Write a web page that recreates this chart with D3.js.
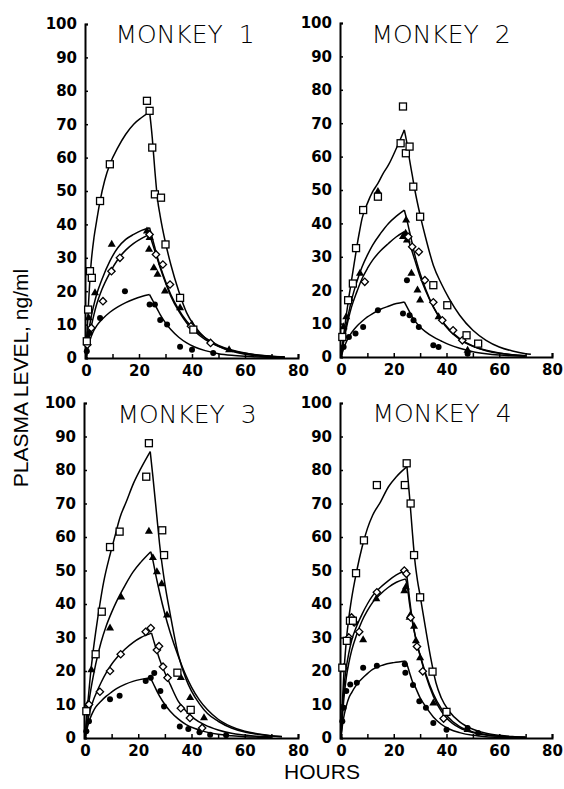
<!DOCTYPE html>
<html>
<head>
<meta charset="utf-8">
<script src="https://cdn.jsdelivr.net/npm/d3@7"></script>
<style>
  body { margin: 0; background: #fff; }
  .tick text { font-family: 'DejaVu Sans', sans-serif; font-weight: bold; font-size: 15px; }
</style>
</head>
<body>
<script>
// ---- data: [hours, ng/ml] ----
const titles = ['MONKEY  1', 'MONKEY  2', 'MONKEY  3', 'MONKEY  4']
const xTicks = [0, 20, 40, 60, 80]
const yTicks = [0, 10, 20, 30, 40, 50, 60, 70, 80, 90, 100]

// Monkey 1
const m1Sq = [[0.3,5],[0.8,14.5],[1.5,26],[2.2,24],[5.3,47],[9,58],[23,77],[24,74],[25,63],[26,49],[28.3,48],[30,34],[35.5,18],[40.5,8.5]]
const m1Tri = [[0.4,6],[1,12],[3.4,19.5],[9.7,34],[23,38],[24,36],[23.8,32.5],[25.6,27],[27,25],[29.8,20],[35.5,15],[40,10],[54,2.4]]
const m1Dia = [[0.5,4],[2,9],[6.4,17],[9.6,26],[12.8,30],[24,37],[26.4,31],[29,28],[31.7,22],[39.6,9.5],[47,4.5]]
const m1Dot = [[0.3,2],[1.3,7.5],[5.3,12],[14.7,20],[24,16],[26,16],[28,11.4],[30.6,10],[35.5,3.4],[40,2.5],[48,1.5]]
const m1SqFit = [[0,0],[0.5,9],[1,17],[1.5,24],[2,29],[3,36],[4,41],[5.3,47],[7,53],[9,58],[12,63],[15,67],[18,70],[21,72],[24,73.7],[25,66],[26,56],[27,47.5],[28,42.5],[30,34.5],[32,28],[35,20],[38,13.5],[41,9.5],[45,6],[50,3.5],[55,2],[60,1.1],[65,0.6],[70,0.35],[75,0.2]]
const m1TriFit = [[0,0],[0.5,4],[1,7.5],[2,12.5],[3,16],[4,19],[6,23.5],[9,29],[12,33],[15,35.5],[18,37],[21,38.2],[24,39],[25,36],[26,33],[27,30],[28,27.5],[30,23],[32,19],[35,14.5],[38,11],[41,8.5],[45,6],[50,3.8],[55,2.4],[60,1.5],[65,0.9],[70,0.55],[75,0.3]]
const m1DiaFit = [[0,0],[0.5,3],[1,5.5],[2,9.5],[3,13],[4,16],[6,20.5],[9,25.5],[12,29.5],[15,32.3],[18,34.3],[21,35.8],[24,37],[25,34.5],[26,32],[27,29.5],[28,27],[30,22.5],[32,18.5],[35,14],[38,10.5],[41,8],[45,5.5],[50,3.5],[55,2.2],[60,1.4],[65,0.85],[70,0.5],[75,0.3]]
const m1DotFit = [[0,0],[0.5,2],[1,4],[2,6.5],[3,8.3],[4,9.6],[6,11.5],[9,13.7],[12,15.3],[15,16.6],[18,17.6],[21,18.4],[24,19],[25,17.5],[26,16],[27,14.5],[28,13],[30,10.5],[32,8.5],[35,6.2],[38,4.5],[41,3.3],[45,2.2],[50,1.3],[55,0.8],[60,0.5],[65,0.3],[70,0.2],[75,0.1]]

// Monkey 2
const m2Sq = [[0.5,6],[2.7,17],[4.5,22],[5.7,32.6],[8.4,44],[14,48],[22.6,64],[23.5,75],[24.6,61],[26,63],[27.4,51],[30,42],[35,21.5],[40.3,15.5],[47.6,6.5],[52,4]]
const m2Tri = [[1,9],[2,12],[7.2,25],[14,49.5],[23.5,36],[24.5,37],[24.7,41],[25,35],[26.7,25],[29,20],[30,17],[37,12],[48,2]]
const m2Dia = [[3,17],[9,22.5],[25.5,36],[27,33],[29.5,31.5],[31.8,23],[35,16.4],[38.4,11],[42.5,8],[46,5]]
const m2Dot = [[1,3],[3,6],[5.5,7],[8.4,9],[14,14],[23.5,13],[25,23],[26,12.5],[27.5,11],[29.5,9],[35,3.5],[37,3],[48,1]]
const m2SqFit = [[0,0],[1,6.5],[2,12.5],[3,18],[4,23],[5,28],[6,33],[7,37.5],[8,41.5],[10,46],[12,49.5],[14,52],[16,55],[18,57.5],[21,62.5],[24,68],[25,64],[26,59],[27,54.5],[28,50],[30,42.5],[32,36],[35,27.5],[38,22],[41,17.5],[45,12.5],[50,8],[55,5],[60,3],[65,1.8],[70,1],[72,0.8]]
const m2TriFit = [[0,0],[1,5],[2,9.5],[3,13.5],[4,17],[6,22.5],[8,27],[10,30.5],[12,33.5],[15,37],[18,40],[21,42.2],[24,44],[25,41],[26,37.5],[27,34],[28,30.5],[30,25],[32,20.5],[35,15],[38,11],[41,8],[45,5.3],[50,3.2],[55,1.9],[60,1.1],[65,0.7],[70,0.4]]
const m2DiaFit = [[0,0],[1,4.5],[2,8.5],[3,12],[4,15],[6,19.5],[8,23.5],[10,26.5],[12,29],[15,31.8],[18,34],[21,36],[24,37.5],[25,36],[26,34],[27,31.5],[28,29],[30,24],[32,20],[35,15],[38,11.2],[41,8.3],[45,5.5],[50,3.3],[55,2],[60,1.2],[65,0.7],[70,0.4]]
const m2DotFit = [[0,0],[1,2.5],[2,4.5],[3,6],[4,7.3],[6,9.2],[8,10.7],[10,12],[12,13],[15,14.3],[18,15.2],[21,16],[24,16.5],[25,15],[26,13.5],[27,12],[28,10.8],[30,9],[32,7.6],[35,6],[38,4.8],[41,3.7],[45,2.6],[50,1.6],[55,1],[60,0.6],[65,0.35],[70,0.2]]

// Monkey 3
const m3Sq = [[0.5,8],[4,25],[6.3,37.7],[9.4,57],[13,61.6],[24,88],[23,78],[29,62],[29.7,54.6],[34.7,19.5],[39.7,8.4]]
const m3Tri = [[1,10],[2.4,20.3],[9.4,32.8],[13.6,42],[24,61.7],[25.5,53.8],[27,49.6],[28.8,46],[30.8,36.7],[36,18],[39.5,12],[44.7,6]]
const m3Dia = [[1.5,10],[5.6,13.8],[9.4,20],[13.4,25],[22.8,31.7],[24.7,32.8],[27,26.3],[27.8,27.4],[29.3,21.3],[31,18],[36,8.9],[39.4,6],[44,3]]
const m3Dot = [[0.5,2],[1.5,5],[9.4,11.6],[13,12.6],[22.8,17],[24.7,18],[26,19.4],[28.3,14],[29.7,9.4],[35.6,3.4],[38.8,2.7],[43,1.7],[47,1],[53,0.8]]
const m3SqFit = [[0,0],[1,10],[2,18.5],[3,25.5],[4,31.5],[5.6,40],[7,46.5],[9.4,54.7],[11,59.5],[13.2,66],[15.5,70.5],[18.2,76],[21,80.5],[24.5,85.5],[25.5,78],[27,66],[28,58],[30,46],[32,37],[35,25],[38,17.5],[40,14],[43,10.2],[46,7.3],[50,5],[55,3],[60,1.8],[65,1.1],[70,0.6],[74,0.4]]
const m3TriFit = [[0,0],[1,8],[2,13.5],[3,18],[4,22],[6,28.5],[8,33.5],[10,37.5],[12,41],[15,45.5],[18,49.5],[21,52.5],[24.7,55.6],[25.5,53],[26.5,49],[28,43.5],[30,37],[32,31.5],[35,24.5],[38,18.5],[40,15.2],[43,11.3],[46,8.4],[50,5.6],[55,3.4],[60,2],[65,1.2],[70,0.7],[74,0.45]]
const m3DiaFit = [[0,0],[1,5],[2,8.5],[3,11],[4,13],[6,16.5],[8,19.5],[10,22],[12,24],[15,26.5],[18,28.5],[21,30],[25,31.3],[26,28.5],[27,26],[28,23.5],[30,19.5],[32,16],[35,11],[38,8],[41,5.8],[45,3.9],[50,2.4],[55,1.4],[60,0.9],[65,0.5],[70,0.3]]
const m3DotFit = [[0,0],[1,3.5],[2,6],[3,7.8],[4,9.2],[6,11],[8,12.5],[10,13.7],[12,14.8],[15,16],[18,16.9],[21,17.5],[24.5,18],[25.5,16.5],[27,14],[28,12.5],[30,10],[32,8],[35,5.7],[38,4],[41,2.9],[45,1.9],[50,1.1],[55,0.7],[60,0.4],[65,0.25],[70,0.15]]

// Monkey 4
const m4Sq = [[0.5,21],[2.2,29],[3.4,35],[4.5,35],[5.7,49.2],[8.7,59],[13.6,75.5],[24.2,75.5],[24.9,82],[26.4,70],[27.7,54.6],[30,42],[34.7,19.8],[40,7.8]]
const m4Tri = [[2.8,30],[8.4,29.3],[13.4,41.5],[24,43.9],[24.6,45],[26,36],[26.3,36.7],[27.7,33.3],[28.4,29],[30,23.9],[35,10.4],[48,2.5]]
const m4Dia = [[1,21],[3,30],[4,36],[5,34.5],[6.9,31.7],[13.6,43.5],[24,50],[24.8,49],[26.4,36],[28.8,27.3],[31,19.9],[38.9,5.8]]
const m4Dot = [[0.5,5],[1,9],[2,14],[3.5,16],[6,16.5],[8.4,21],[13.6,21.6],[24.2,22],[24.4,19.5],[27.3,15.8],[29.7,11],[32.2,9],[35,4.5],[40,2.5],[48,3],[52,1.5]]
const m4SqFit = [[0,0],[0.5,10],[1,18],[2,29],[3,36],[4,41.5],[6,50],[8,57],[10,62.5],[12,66.5],[15,70.5],[18,75],[21,78],[25,81],[26,72],[27,62],[28,53],[29,47],[30,42.5],[32,33],[34,24],[36,16.5],[38,12],[41,8],[45,4.8],[50,2.6],[55,1.4],[60,0.8],[65,0.45],[70,0.25]]
const m4TriFit = [[0,0],[0.5,6],[1,11],[2,18],[3,22.5],[4,26],[6,31],[8,35],[10,38],[12,40.5],[15,43],[18,45],[21,46.5],[24.5,47.5],[25,46],[26,40],[27,35],[28,31],[29,27.5],[30,24.8],[32,19.5],[35,13.2],[38,8.8],[40,6.7],[45,3.4],[50,1.8],[55,1],[60,0.55],[65,0.3],[70,0.2]]
const m4DiaFit = [[0,0],[0.5,8],[1,14],[2,21],[3,25.5],[4,29],[6,33.5],[8,37],[10,40],[12,42.5],[15,45],[18,47],[21,48.7],[24.5,50],[25,48],[26,41.5],[27,35.5],[28,31],[29,27.5],[30,24.5],[32,19],[35,12.5],[38,8],[40,6],[45,3],[50,1.6],[55,0.9],[60,0.5],[65,0.3],[70,0.2]]
const m4DotFit = [[0,0],[0.5,3.5],[1,6],[2,9.5],[3,12],[4,13.5],[6,16],[9,18.5],[12,20.5],[16,21.8],[20,22.5],[24.5,23],[25,22],[26,19.5],[27,17],[28,15.5],[30,12],[32,9.5],[35,6.3],[38,4.1],[41,2.7],[45,1.6],[50,0.8],[55,0.4],[60,0.2],[65,0.1]]

const squares = [m1Sq, m2Sq, m3Sq, m4Sq]
const triangles = [m1Tri, m2Tri, m3Tri, m4Tri]
const diamonds = [m1Dia, m2Dia, m3Dia, m4Dia]
const dots = [m1Dot, m2Dot, m3Dot, m4Dot]
const fits = [
  [m1SqFit, m1TriFit, m1DiaFit, m1DotFit],
  [m2SqFit, m2TriFit, m2DiaFit, m2DotFit],
  [m3SqFit, m3TriFit, m3DiaFit, m3DotFit],
  [m4SqFit, m4TriFit, m4DiaFit, m4DotFit]
]

// ---- layout ----
const width = 564
const height = 789
const frames = [
  { left: 86, right: 298, top: 24, bottom: 358, titleX: 185, titleY: 43 },
  { left: 341, right: 552, top: 23, bottom: 357, titleX: 441, titleY: 43 },
  { left: 85, right: 298, top: 403, bottom: 738, titleX: 187, titleY: 423 },
  { left: 341, right: 552, top: 403, bottom: 738, titleX: 442, titleY: 422 }
]

const svg = d3.select('body').append('svg')
  .attr('width', width)
  .attr('height', height)

const line = (x, y) => d3.line()
  .x(d => x(d[0]))
  .y(d => y(d[1]))
  .curve(d3.curveMonotoneX)

frames.forEach((f, i) => {
  const x = d3.scaleLinear().domain([0, 80]).range([f.left, f.right])
  const y = d3.scaleLinear().domain([0, 100]).range([f.bottom, f.top])
  const g = svg.append('g')

  g.append('g')
    .attr('transform', `translate(0, ${f.bottom})`)
    .call(d3.axisBottom(x).tickValues(d3.range(0, 81, 10)).tickSize(-4).tickPadding(7)
      .tickFormat(d => xTicks.includes(d) ? d : ''))
    .call(a => a.select('.domain').attr('stroke-width', 2))
    .call(a => a.selectAll('.tick line').attr('stroke-width', 1.5))
    .call(a => a.selectAll('.tick text').attr('fill', '#000'))

  g.append('g')
    .attr('transform', `translate(${f.left - 1}, 0)`)
    .call(d3.axisLeft(y).tickValues(yTicks).tickSize(-3).tickPadding(8))
    .call(a => a.select('.domain').attr('stroke-width', 2))
    .call(a => a.selectAll('.tick line').attr('stroke-width', 1.5))
    .call(a => a.selectAll('.tick text').attr('fill', '#000'))

  g.append('text')
    .attr('x', f.titleX)
    .attr('y', f.titleY)
    .attr('text-anchor', 'middle')
    .attr('fill', '#000')
    .style('white-space', 'pre')
    .style('font-family', "'DejaVu Sans', sans-serif")
    .style('font-weight', 300)
    .style('font-size', '25px')
    .text(titles[i])

  // fitted curves: rise and washout drawn as two pieces
  fits[i].forEach(fit => {
    const peak = d3.maxIndex(fit, d => d[1])
    ;[fit.slice(0, peak + 1), fit.slice(peak)].forEach(part => {
      g.append('path')
        .attr('d', line(x, y)(part))
        .attr('fill', 'none')
        .attr('stroke', '#000')
        .attr('stroke-width', 1.5)
    })
  })

  g.selectAll('.dot').data(dots[i]).enter().append('circle')
    .attr('cx', d => x(d[0]))
    .attr('cy', d => y(d[1]))
    .attr('r', 3)
    .attr('fill', '#000')

  g.selectAll('.tri').data(triangles[i]).enter().append('path')
    .attr('transform', d => `translate(${x(d[0])}, ${y(d[1])})`)
    .attr('d', d3.symbol(d3.symbolTriangle, 28))
    .attr('fill', '#000')

  g.selectAll('.dia').data(diamonds[i]).enter().append('path')
    .attr('transform', d => `translate(${x(d[0])}, ${y(d[1])}) rotate(45)`)
    .attr('d', 'M-2.6,-2.6H2.6V2.6H-2.6Z')
    .attr('fill', '#fff')
    .attr('stroke', '#000')
    .attr('stroke-width', 1.3)

  g.selectAll('.sq').data(squares[i]).enter().append('rect')
    .attr('x', d => x(d[0]) - 3.5)
    .attr('y', d => y(d[1]) - 3.5)
    .attr('width', 7)
    .attr('height', 7)
    .attr('fill', '#fff')
    .attr('stroke', '#000')
    .attr('stroke-width', 1.3)
})

svg.append('text')
  .attr('transform', 'translate(28, 378) rotate(-90)')
  .attr('text-anchor', 'middle')
  .style('font-family', "'Liberation Sans', Arial, sans-serif")
  .style('font-size', '21px')
  .text('PLASMA LEVEL, ng/ml')

svg.append('text')
  .attr('x', 322)
  .attr('y', 779)
  .attr('text-anchor', 'middle')
  .style('font-family', "'Liberation Sans', Arial, sans-serif")
  .style('font-size', '21px')
  .text('HOURS')
</script>
</body>
</html>
